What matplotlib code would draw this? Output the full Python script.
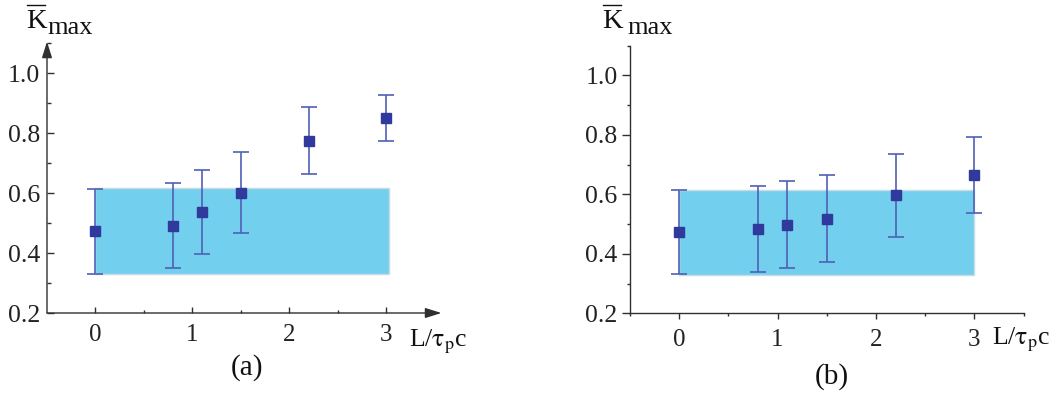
import matplotlib
matplotlib.use("Agg")
import matplotlib.pyplot as plt
from matplotlib.patches import Rectangle
from matplotlib.lines import Line2D
from matplotlib.ticker import FixedLocator

plt.rcParams["font.family"] = ["Liberation Serif", "DejaVu Serif"]
plt.rcParams["mathtext.fontset"] = "stix"

# Normalised propagation length L/(tau_p c)
L_vals = [0.0, 0.8, 1.1, 1.5, 2.2, 3.0]

# Panel (a): mean K_max with upper / lower error limits
a_mean = [0.473, 0.490, 0.537, 0.600, 0.774, 0.850]
a_upper = [0.614, 0.632, 0.678, 0.736, 0.887, 0.927]
a_lower = [0.330, 0.349, 0.396, 0.466, 0.664, 0.773]

# Panel (b)
b_mean = [0.473, 0.483, 0.497, 0.517, 0.598, 0.665]
b_upper = [0.614, 0.628, 0.644, 0.666, 0.737, 0.794]
b_lower = [0.331, 0.340, 0.353, 0.372, 0.458, 0.538]

# Shaded reference band (x range, y range)
a_band_x = (0.0, 3.03)
b_band_x = (0.0, 3.0)
band_y = (0.33, 0.616)

y_ticks = [0.2, 0.4, 0.6, 0.8, 1.0]
y_tick_labels = ["0.2", "0.4", "0.6", "0.8", "1.0"]
x_ticks = [0, 1, 2, 3]
x_tick_labels = ["0", "1", "2", "3"]

W, H = 1056, 396
fig = plt.figure(figsize=(W / 100, H / 100), dpi=100)

AX_COL = "#303030"
BAND_COL = "#72cfee"
MARK_COL = "#2f3a9c"
ERR_COL = "#5060b6"


def px(x, y):
    return x / W, 1 - y / H


def draw_panel(ax, mean, upper, lower, band_x, inward):
    ax.add_patch(Rectangle((band_x[0], band_y[0]), band_x[1] - band_x[0],
                           band_y[1] - band_y[0], facecolor=BAND_COL,
                           edgecolor="#c9dbe2", lw=1.0, zorder=1))
    yerr = [[m - lo for m, lo in zip(mean, lower)],
            [u - m for m, u in zip(mean, upper)]]
    ax.errorbar(L_vals, mean, yerr=yerr, fmt="none", ecolor=ERR_COL,
                elinewidth=1.2, capsize=5.5, capthick=1.2, zorder=3)
    ax.plot(L_vals, mean, "s", color=MARK_COL, ms=7.8, mec=MARK_COL,
            zorder=4, clip_on=False)
    ax.set_ylim(0.2, 1.1)
    ax.set_yticks(y_ticks)
    ax.set_yticklabels(y_tick_labels, fontsize=18.5)
    ax.set_xticks(x_ticks)
    ax.set_xticklabels(x_tick_labels, fontsize=18)
    ax.yaxis.set_minor_locator(FixedLocator([0.3, 0.5, 0.7, 0.9, 1.1]))
    for s in ("top", "right"):
        ax.spines[s].set_visible(False)
    for s in ("left", "bottom"):
        ax.spines[s].set_color(AX_COL)
        ax.spines[s].set_linewidth(1.0)
    d = "in" if inward else "out"
    ax.tick_params(axis="both", which="both", direction=d, color=AX_COL,
                   width=1.0, labelcolor="#222222")
    if inward:
        ax.tick_params(axis="y", which="major", length=5, pad=5)
        ax.tick_params(axis="y", which="minor", length=3)
        ax.tick_params(axis="x", which="major", length=4, pad=8)
        ax.tick_params(axis="x", which="minor", length=2)
    else:
        ax.tick_params(axis="y", which="major", length=6, pad=3)
        ax.tick_params(axis="y", which="minor", length=2.5)
        ax.tick_params(axis="x", which="major", length=4, pad=7)
        ax.tick_params(axis="x", which="minor", length=2.5)


# Panel (a): axes drawn with arrow heads
ax_a = fig.add_axes([47 / W, (H - 313) / H, 394.4 / W, 270 / H])
ax_a.set_xlim(-0.5, 3.57)
draw_panel(ax_a, a_mean, a_upper, a_lower, a_band_x, inward=True)
ax_a.xaxis.set_minor_locator(FixedLocator([0.5, 1.5, 2.5]))
ax_a.spines["left"].set_visible(False)
ax_a.spines["bottom"].set_visible(False)
arrow_kw = dict(arrowstyle="-|>,head_length=0.7,head_width=0.22",
                color=AX_COL, lw=1.0, shrinkA=0, shrinkB=0,
                mutation_scale=14)
ax_a.annotate("", xy=(1, 0), xytext=(0, 0), xycoords="axes fraction",
              textcoords="axes fraction", arrowprops=arrow_kw,
              annotation_clip=False)
ax_a.annotate("", xy=(0, 1.005), xytext=(0, 0), xycoords="axes fraction",
              textcoords="axes fraction", arrowprops=arrow_kw,
              annotation_clip=False)

# Panel (b): plain axes
ax_b = fig.add_axes([630 / W, (H - 313.3) / H, 393.6 / W, 267.75 / H])
ax_b.set_xlim(-0.5, 3.5)
draw_panel(ax_b, b_mean, b_upper, b_lower, b_band_x, inward=False)
ax_b.xaxis.set_minor_locator(FixedLocator([-0.5, 0.5, 1.5, 2.5, 3.5]))

# Axis titles and panel captions
for kx, mx, lx, ly, cap, capx, cy in [(26, 47, 409, 346, "(a)", 247, 368),
                                      (602, 627, 992, 344, "(b)", 832, 377)]:
    fig.text(*px(kx, 28.5), "K", fontsize=20.5,
             ha="left", va="baseline", color="#111111")
    x0, y0 = px(kx + 1, 5)
    x1, _ = px(kx + 19, 5)
    fig.add_artist(Line2D([x0, x1], [y0, y0], color="#111111", lw=1.0,
                          transform=fig.transFigure))
    fig.text(*px(mx, 33.5), "max", fontsize=19, ha="left",
             va="baseline", color="#111111")
    fig.text(*px(lx, ly), r"L/$\mathrm{\tau_p}$c", fontsize=18.5,
             ha="left", va="baseline", color="#111111")
    fig.text(*px(capx, cy), cap, fontsize=21,
             ha="center", va="center", color="#111111")

fig.savefig("out.png", dpi=100)
